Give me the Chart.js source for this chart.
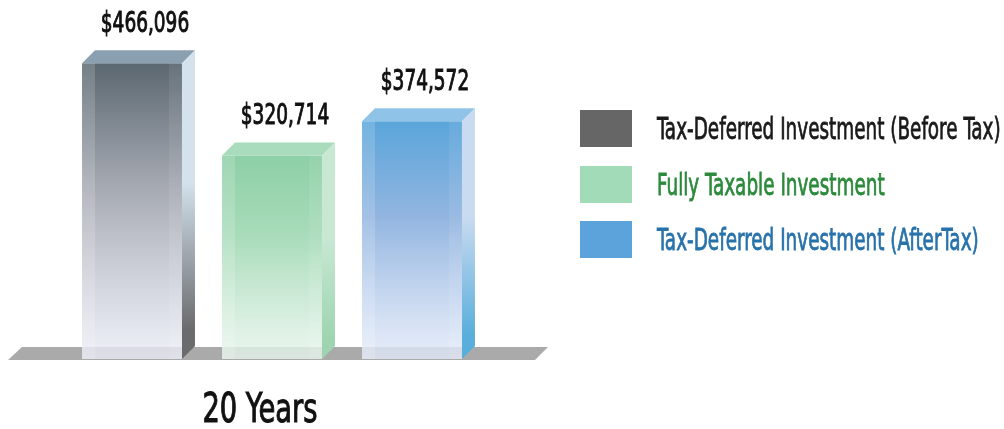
<!DOCTYPE html>
<html>
<head>
<meta charset="utf-8">
<script src="https://cdn.jsdelivr.net/npm/chart.js@4.4.1/dist/chart.umd.min.js"></script>
<style>
  html, body { margin: 0; padding: 0; background: #fff; }
  #wrap { position: relative; width: 1004px; height: 429px; }
  #legend {
    position: absolute; left: 580px; top: 110px;
    font-family: 'DejaVu Sans Condensed', 'Liberation Sans Narrow', sans-serif;
  }
  .item { display: flex; align-items: center; height: 37px; margin-bottom: 18.5px; }
  .box { width: 52px; height: 37px; margin-right: 25px; flex: none; }
  .txt {
    display: inline-block; font-size: 31px; line-height: 37px; white-space: nowrap;
    -webkit-text-stroke: 0.8px currentColor;
    transform: scaleX(0.66); transform-origin: left center;
  }
</style>
</head>
<body>
<div id="wrap">
  <canvas id="canvas" width="1004" height="429"></canvas>
  <div id="legend"></div>
</div>
<script>
// data
var categories = ["20 Years"];
var seriesNames = [
  "Tax-Deferred Investment (Before Tax)",
  "Fully Taxable Investment",
  "Tax-Deferred Investment (AfterTax)"
];
var beforeTax = [466096];
var fullyTaxable = [320714];
var afterTax = [374572];
var yMax = 550000;

// colours
var legendColors = ["#666666", "#a2dbb8", "#5ca3dc"];
var legendTextColors = ["#1a1a1a", "#2c8a3c", "#2872ab"];
var faceStops = [
  ["#5b6770", "#a3a7b0", "rgba(234,236,246,0.8)"],
  ["#8dcfa6", "#a9dcba", "rgba(230,244,235,0.8)"],
  ["#5aa5da", "#92b5e0", "rgba(226,233,248,0.8)"]
];
var topColors = ["#8aa0b0", "#a8dcbc", "#90c3e8"];
var sideTop = ["#d3e2ed", "#c8e8d4", "#c9dbf0"];
var sideBottom = ["#6a6b6d", "#9ed5b0", "#5aaedb"];

var DEPTH = 13;
var FONT = "'DejaVu Sans Condensed', 'Liberation Sans Narrow', sans-serif";

function faceGradient(i) {
  return function (ctx) {
    var chart = ctx.chart;
    var area = chart.chartArea;
    if (!area) return legendColors[i];
    var top = chart.scales.y.getPixelForValue(ctx.raw);
    var g = chart.ctx.createLinearGradient(0, top, 0, area.bottom);
    g.addColorStop(0, faceStops[i][0]);
    g.addColorStop(0.4, faceStops[i][1]);
    g.addColorStop(1, faceStops[i][2]);
    return g;
  };
}

function money(v) {
  return "$" + v.toLocaleString("en-US");
}

// condensed, slightly heavier text
function narrowText(c, text, x, y, sx) {
  c.save();
  c.translate(x, y);
  c.scale(sx, 1);
  c.lineWidth = 1;
  c.strokeStyle = c.fillStyle;
  c.fillText(text, 0, 0);
  c.strokeText(text, 0, 0);
  c.restore();
}

// floor slab + glass box faces + value labels + category label
var glassPlugin = {
  id: "glass",
  beforeDatasetsDraw: function (chart) {
    var a = chart.chartArea, c = chart.ctx;
    c.save();
    c.beginPath();
    c.moveTo(a.left - 2, a.bottom + 1);
    c.lineTo(a.left + 12, a.bottom - 12);
    c.lineTo(a.right + 14, a.bottom - 12);
    c.lineTo(a.right + 1, a.bottom + 1);
    c.closePath();
    c.fillStyle = "#aaaaaa";
    c.fill();
    c.restore();
  },
  afterDatasetsDraw: function (chart) {
    var c = chart.ctx;
    var d = DEPTH;
    chart.data.datasets.forEach(function (ds, i) {
      var meta = chart.getDatasetMeta(i);
      meta.data.forEach(function (bar, j) {
        var p = bar.getProps(["x", "y", "base", "width"], true);
        var left = p.x - p.width / 2, right = p.x + p.width / 2;
        var top = p.y, bottom = p.base;
        c.save();
        // top face
        c.beginPath();
        c.moveTo(left, top);
        c.lineTo(left + d, top - d);
        c.lineTo(right + d, top - d);
        c.lineTo(right, top);
        c.closePath();
        c.fillStyle = topColors[i];
        c.fill();
        // side face
        var sg = c.createLinearGradient(0, top, 0, bottom);
        sg.addColorStop(0, sideTop[i]);
        sg.addColorStop(0.4, sideTop[i]);
        sg.addColorStop(0.9, sideBottom[i]);
        sg.addColorStop(1, sideBottom[i]);
        c.beginPath();
        c.moveTo(right, top);
        c.lineTo(right + d, top - d);
        c.lineTo(right + d, bottom - d);
        c.lineTo(right, bottom);
        c.closePath();
        c.fillStyle = sg;
        c.fill();
        // lighter strips at the glass edges
        c.fillStyle = "rgba(255,255,255,0.16)";
        c.fillRect(left, top, d, bottom - top);
        c.fillStyle = "rgba(255,255,255,0.08)";
        c.fillRect(right - d, top, d, bottom - top);
        // value label
        c.font = "29px " + FONT;
        c.fillStyle = "#111111";
        c.textAlign = "center";
        c.textBaseline = "alphabetic";
        narrowText(c, money(ds.data[j]), p.x + d, top - d - 18, 0.71);
        c.restore();
      });
    });
  },
  afterDraw: function (chart) {
    var c = chart.ctx, xs = chart.scales.x;
    c.save();
    c.font = "40px " + FONT;
    c.fillStyle = "#111111";
    c.textAlign = "center";
    c.textBaseline = "alphabetic";
    xs.ticks.forEach(function (t, i) {
      narrowText(c, categories[i], xs.getPixelForTick(i) - 12, chart.chartArea.bottom + 63, 0.76);
    });
    c.restore();
  }
};

var ctx = document.getElementById("canvas").getContext("2d");
var values = [beforeTax, fullyTaxable, afterTax];
var datasets = values.map(function (v, i) {
  return {
    label: seriesNames[i],
    data: v,
    backgroundColor: faceGradient(i),
    borderWidth: 0,
    categoryPercentage: 0.8015,
    barPercentage: 0.714
  };
});

var chart = new Chart(ctx, {
  type: "bar",
  data: { labels: categories, datasets: datasets },
  options: {
    responsive: false,
    animation: false,
    devicePixelRatio: 1,
    layout: { padding: { left: 10, right: 470, top: 10, bottom: 4 } },
    plugins: {
      legend: { display: false },
      tooltip: { enabled: false }
    },
    scales: {
      x: {
        grid: { display: false, drawTicks: false },
        border: { display: false },
        ticks: { display: false },
        afterFit: function (scale) { scale.height = 66; }
      },
      y: {
        display: false,
        min: 0,
        max: yMax
      }
    }
  },
  plugins: [glassPlugin]
});

// html legend
var legend = document.getElementById("legend");
seriesNames.forEach(function (name, i) {
  var item = document.createElement("div");
  item.className = "item";
  var box = document.createElement("div");
  box.className = "box";
  box.style.background = legendColors[i];
  var txt = document.createElement("span");
  txt.className = "txt";
  txt.style.color = legendTextColors[i];
  txt.textContent = name;
  item.appendChild(box);
  item.appendChild(txt);
  legend.appendChild(item);
});
</script>
</body>
</html>
